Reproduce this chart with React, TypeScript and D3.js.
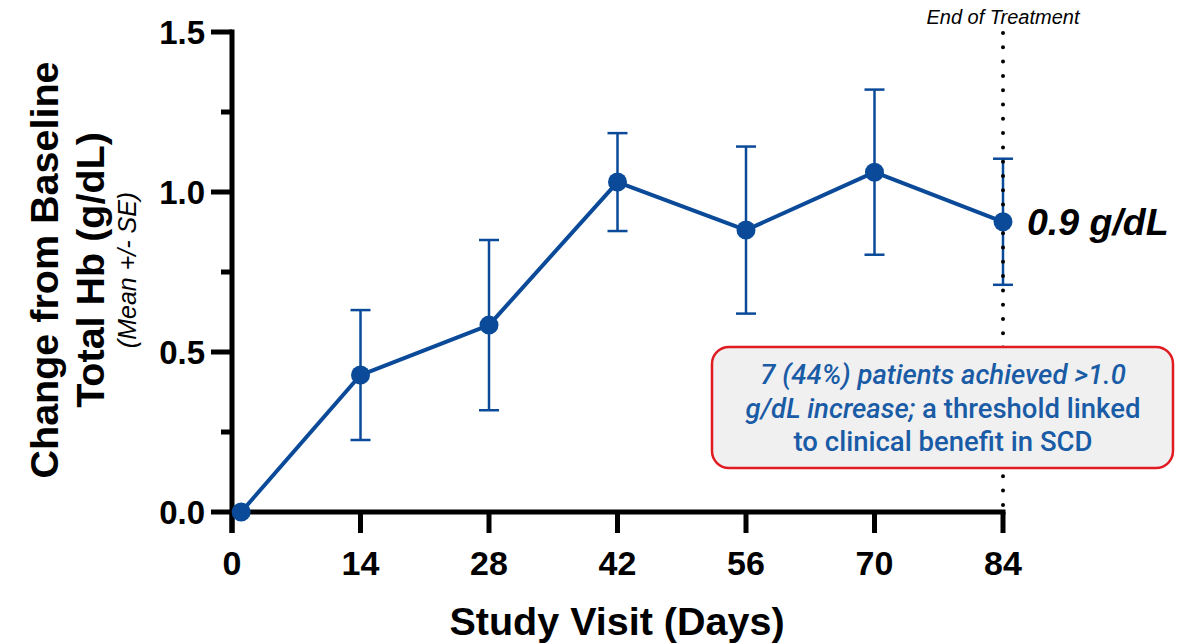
import React from "react";
import * as d3 from "d3";

const days = [1, 14, 28, 42, 56, 70, 84];
const means = [0, 0.428, 0.584, 1.031, 0.881, 1.062, 0.907];
const se = [0, 0.203, 0.266, 0.153, 0.261, 0.258, 0.197];
const xTicks = [0, 14, 28, 42, 56, 70, 84];
const yMajor = [0, 0.5, 1.0, 1.5];
const yMinor = [0.25, 0.75, 1.25];
const endDay = 84;

const W = 1180;
const H = 643;
const BLUE = "#0a4a98";
const TEXTBLUE = "#1a5ba6";
const MAIN = "'Liberation Sans', Arial, Helvetica, sans-serif";

export default function App() {
  const x = d3.scaleLinear().domain([0, 84]).range([232, 1003]);
  const y = d3.scaleLinear().domain([0, 1.5]).range([512, 32]);
  const line = d3
    .line<number>()
    .x((_, i) => x(days[i]))
    .y((d) => y(d));

  const x0 = x(0);
  const y0 = y(0);
  const lastI = means.length - 1;

  return (
    <svg
      width={W}
      height={H}
      style={{ position: "absolute", left: 0, top: 0, background: "#fff" }}
      fontFamily={MAIN}
    >
      {/* Y axis */}
      <line x1={x0} x2={x0} y1={y(1.5) - 2.5} y2={y0 + 21} stroke="#000" strokeWidth={5} />
      {yMajor.map((v) => (
        <line key={"ym" + v} x1={x0 - 21} x2={x0} y1={y(v)} y2={y(v)} stroke="#000" strokeWidth={5} />
      ))}
      {yMinor.map((v) => (
        <line key={"yn" + v} x1={x0 - 11} x2={x0} y1={y(v)} y2={y(v)} stroke="#000" strokeWidth={5} />
      ))}
      {yMajor.map((v) => (
        <text
          key={"yl" + v}
          x={x0 - 27}
          y={y(v)}
          dy="0.36em"
          textAnchor="end"
          fontSize={33}
          fontWeight="bold"
        >
          {d3.format(".1f")(v)}
        </text>
      ))}

      {/* X axis */}
      <line x1={x0 - 2.5} x2={x(84) + 2.5} y1={y0} y2={y0} stroke="#000" strokeWidth={5} />
      {xTicks.map((t) => (
        <line key={"xt" + t} x1={x(t)} x2={x(t)} y1={y0} y2={y0 + 21} stroke="#000" strokeWidth={5} />
      ))}
      {xTicks.map((t) => (
        <text
          key={"xl" + t}
          x={x(t)}
          y={y0 + 63}
          textAnchor="middle"
          fontSize={34}
          fontWeight="bold"
        >
          {t}
        </text>
      ))}
      <text x={617} y={635} textAnchor="middle" fontSize={39.5} fontWeight="bold">
        Study Visit (Days)
      </text>

      {/* Y title */}
      <g transform="translate(0,270) rotate(-90)">
        <text x={0} y={58} textAnchor="middle" fontSize={39.5} fontWeight="bold">
          Change from Baseline
        </text>
        <text x={0} y={104} textAnchor="middle" fontSize={39.5} fontWeight="bold">
          Total Hb (g/dL)
        </text>
        <text x={0} y={136} textAnchor="middle" fontSize={25} fontStyle="italic">
          (Mean +/- SE)
        </text>
      </g>

      {/* error bars */}
      {means.map((m, i) =>
        se[i] > 0 ? (
          <g key={"eb" + i} stroke={BLUE} strokeWidth={2.5}>
            <line x1={x(days[i])} x2={x(days[i])} y1={y(m + se[i])} y2={y(m - se[i])} />
            <line x1={x(days[i]) - 10} x2={x(days[i]) + 10} y1={y(m + se[i])} y2={y(m + se[i])} />
            <line x1={x(days[i]) - 10} x2={x(days[i]) + 10} y1={y(m - se[i])} y2={y(m - se[i])} />
          </g>
        ) : null
      )}

      {/* End of treatment dotted line */}
      <line
        x1={x(endDay)}
        x2={x(endDay)}
        y1={y(1.5) + 1}
        y2={y0 - 4}
        stroke="#000"
        strokeWidth={4}
        strokeLinecap="round"
        strokeDasharray="0 14.3"
      />
      <text x={x(endDay)} y={24} textAnchor="middle" fontSize={20} fontStyle="italic">
        End of Treatment
      </text>

      {/* line + markers */}
      <path d={line(means) || ""} fill="none" stroke={BLUE} strokeWidth={4} strokeLinejoin="round" />
      {means.map((m, i) => (
        <circle key={"pt" + i} cx={x(days[i])} cy={y(m)} r={9.5} fill={BLUE} />
      ))}

      <text
        x={x(days[lastI]) + 24}
        y={y(means[lastI]) + 13}
        fontSize={37.5}
        fontWeight="bold"
        fontStyle="italic"
      >
        0.9 g/dL
      </text>

      {/* Annotation box */}
      <rect x={712} y={347} width={461} height={121} rx={17} fill="#f0f0f0" stroke="#e01b22" strokeWidth={2.5} />
      <text
        x={943}
        textAnchor="middle"
        fontSize={27.5}
        fontWeight={500}
        fill={TEXTBLUE}
        fontFamily="Roboto, 'Noto Sans', sans-serif"
      >
        <tspan x={943} y={384} fontStyle="italic">
          7 (44%) patients achieved &gt;1.0
        </tspan>
        <tspan x={943} y={418}>
          <tspan fontStyle="italic">g/dL increase;</tspan> a threshold linked
        </tspan>
        <tspan x={943} y={451}>
          to clinical benefit in SCD
        </tspan>
      </text>
    </svg>
  );
}
